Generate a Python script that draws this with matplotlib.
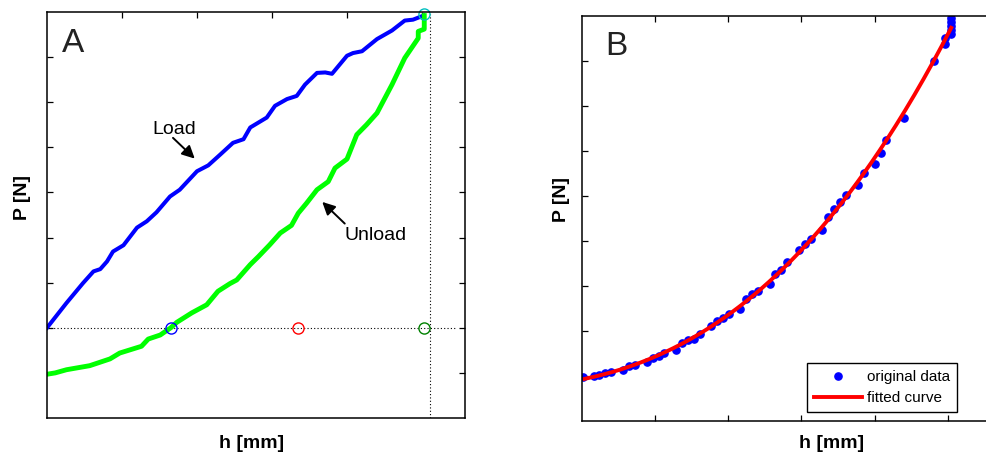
import numpy as np
import matplotlib
matplotlib.use("Agg")
import matplotlib.pyplot as plt

plt.rcParams['font.family'] = ['Liberation Sans', 'DejaVu Sans']

# Panel A: load / unload curves (h in tick units, P relative to zero line)
load_h = [0.00, 0.26, 0.48, 0.62, 0.71, 0.80, 0.88, 1.02, 1.20, 1.33, 1.46, 1.64,
          1.77, 2.00, 2.15, 2.31, 2.48, 2.62, 2.71, 2.93, 3.04, 3.20, 3.33, 3.44,
          3.60, 3.71, 3.80, 4.00, 4.08, 4.20, 4.40, 4.60, 4.77, 4.88, 5.02]
load_p = [0.00, 0.55, 0.99, 1.25, 1.30, 1.47, 1.69, 1.83, 2.22, 2.36, 2.56, 2.91,
          3.06, 3.47, 3.60, 3.84, 4.10, 4.18, 4.44, 4.66, 4.92, 5.07, 5.14, 5.39,
          5.65, 5.66, 5.63, 6.03, 6.09, 6.13, 6.40, 6.59, 6.81, 6.83, 6.92]

unload_h = [5.03, 5.03, 4.95, 4.95, 4.77, 4.60, 4.40, 4.26, 4.13, 4.00, 3.84, 3.75,
            3.60, 3.46, 3.35, 3.26, 3.11, 2.97, 2.82, 2.71, 2.53, 2.44, 2.28, 2.22,
            2.13, 1.93, 1.73, 1.65, 1.51, 1.35, 1.26, 0.97, 0.84, 0.57, 0.26, 0.11, 0.00]
unload_p = [6.92, 6.62, 6.57, 6.42, 5.98, 5.39, 4.76, 4.50, 4.28, 3.74, 3.54, 3.24,
            3.06, 2.76, 2.54, 2.27, 2.10, 1.84, 1.58, 1.40, 1.06, 0.98, 0.81, 0.69,
            0.51, 0.33, 0.12, 0.00, -0.16, -0.25, -0.41, -0.56, -0.69, -0.84, -0.93,
            -1.00, -1.03]

# Characteristic points marked with circles
peak_h, peak_p = 5.03, 6.95
zero_h = [1.65, 3.35, 5.03]
zero_colors = ['blue', 'red', (0.0, 0.5, 0.0)]
h_line = 5.10

# Panel B: unloading data and fit
data_h = [0.014, 0.167, 0.240, 0.322, 0.403, 0.562, 0.648, 0.725, 0.888, 0.970,
          1.052, 1.129, 1.293, 1.374, 1.456, 1.532, 1.614, 1.773, 1.855, 1.936,
          2.018, 2.163, 2.240, 2.321, 2.403, 2.566, 2.644, 2.725, 2.807, 2.966,
          3.048, 3.129, 3.288, 3.369, 3.451, 3.532, 3.610, 3.773, 3.855, 4.000,
          4.082, 4.158, 4.403, 4.807, 4.966, 4.966, 5.048, 5.048, 5.048, 5.048, 5.048]
data_p = [0.964, 0.993, 1.016, 1.053, 1.075, 1.127, 1.209, 1.231, 1.311, 1.393,
          1.438, 1.498, 1.571, 1.733, 1.787, 1.809, 1.920, 2.098, 2.209, 2.282,
          2.364, 2.489, 2.704, 2.809, 2.889, 3.044, 3.260, 3.342, 3.520, 3.787,
          3.920, 4.044, 4.231, 4.520, 4.711, 4.860, 5.022, 5.238, 5.498, 5.711,
          5.942, 6.231, 6.733, 8.000, 8.364, 8.498, 8.593, 8.682, 8.771, 8.860, 8.942]

W, H = 986, 455
fig = plt.figure(figsize=(W / 100, H / 100), dpi=100)


def px_axes(left, top, right, bottom):
    return fig.add_axes([left / W, 1 - bottom / H, (right - left) / W, (bottom - top) / H])


def style(ax, sides):
    for s in ax.spines.values():
        s.set_linewidth(1.1)
    ax.tick_params(direction='in', length=4, width=0.9,
                   labelleft=False, labelbottom=False, labeltop=False, labelright=False,
                   **sides)


# ---- Panel A ----
axA = px_axes(47, 12, 465, 418)
axA.set_xlim(0, 418 / 75)
axA.set_ylim(-2, 7)
axA.set_xticks(np.arange(1, 6))
axA.set_yticks(np.arange(-1, 7))
style(axA, dict(left=True, right=True, top=True, bottom=False))

axA.plot([0, 5.47], [0, 0], color='black', lw=0.8, dashes=(1, 2))
axA.plot([h_line, h_line], [-2, peak_p], color='black', lw=0.8, dashes=(1, 2))
axA.plot(load_h, load_p, color='blue', lw=2.9, solid_joinstyle='round')
axA.plot(unload_h, unload_p, color=(0.0, 1.0, 0.0), lw=3.5, solid_joinstyle='round')
for h, c in zip(zero_h, zero_colors):
    axA.plot(h, 0, 'o', mfc='none', mec=c, ms=8, mew=1.0)
axA.plot(peak_h, peak_p, 'o', mfc='none', mec=(0.0, 0.75, 0.75), ms=8, mew=1.0, clip_on=False)

axA.text(0.036, 0.902, 'A', transform=axA.transAxes, fontsize=24, color='#222222')
axA.text(1.41, 4.30, 'Load', fontsize=14, va='baseline')
axA.annotate('', xy=(1.97, 3.75), xytext=(1.68, 4.21),
             arrowprops=dict(arrowstyle='-|>', color='black', lw=1.4,
                             mutation_scale=19, shrinkA=0, shrinkB=0))
axA.text(3.97, 1.95, 'Unload', fontsize=14, va='baseline')
axA.annotate('', xy=(3.67, 2.79), xytext=(3.97, 2.31),
             arrowprops=dict(arrowstyle='-|>', color='black', lw=1.4,
                             mutation_scale=19, shrinkA=0, shrinkB=0))

fig.text(22.5 / W, 1 - 197 / H, 'P [N]', rotation=90, fontsize=14, fontweight='bold',
         ha='center', va='center')
fig.text(252 / W, 1 - 443 / H, 'h [mm]', fontsize=14, fontweight='bold',
         ha='center', va='center')

# ---- Panel B ----
axB = px_axes(581.7, 15.7, 1001.7, 420.7)
axB.set_xlim(0, 420 / 73.2)
axB.set_ylim(0, 9)
axB.set_xticks(np.arange(1, 6))
axB.set_yticks(np.arange(1, 9))
style(axB, dict(left=True, right=False, top=True, bottom=True))

coef = np.polyfit(data_h, data_p, 3)
fit_h = np.linspace(0.04, data_h[-1], 200)
fit_p = np.polyval(coef, fit_h)
axB.plot(data_h, data_p, 'o', color='blue', ms=5.2, label='original data')
axB.plot(fit_h, fit_p, color='red', lw=2.8, label='fitted curve')

axB.text(0.055, 0.903, 'B', transform=axB.transAxes, fontsize=24, color='#222222')

leg = axB.legend(loc='lower right', bbox_to_anchor=(957 / W, 1 - 412 / H),
                 bbox_transform=fig.transFigure, borderaxespad=0, fontsize=11,
                 numpoints=1, handlelength=3.1, handletextpad=0.35, labelspacing=0.45,
                 borderpad=0.45, fancybox=False, framealpha=1, edgecolor='black')
leg.get_frame().set_linewidth(1.0)

fig.text(561.7 / W, 1 - 200 / H, 'P [N]', rotation=90, fontsize=14, fontweight='bold',
         ha='center', va='center')
fig.text(831.7 / W, 1 - 443 / H, 'h [mm]', fontsize=14, fontweight='bold',
         ha='center', va='center')

fig.savefig('out.png', dpi=100)
